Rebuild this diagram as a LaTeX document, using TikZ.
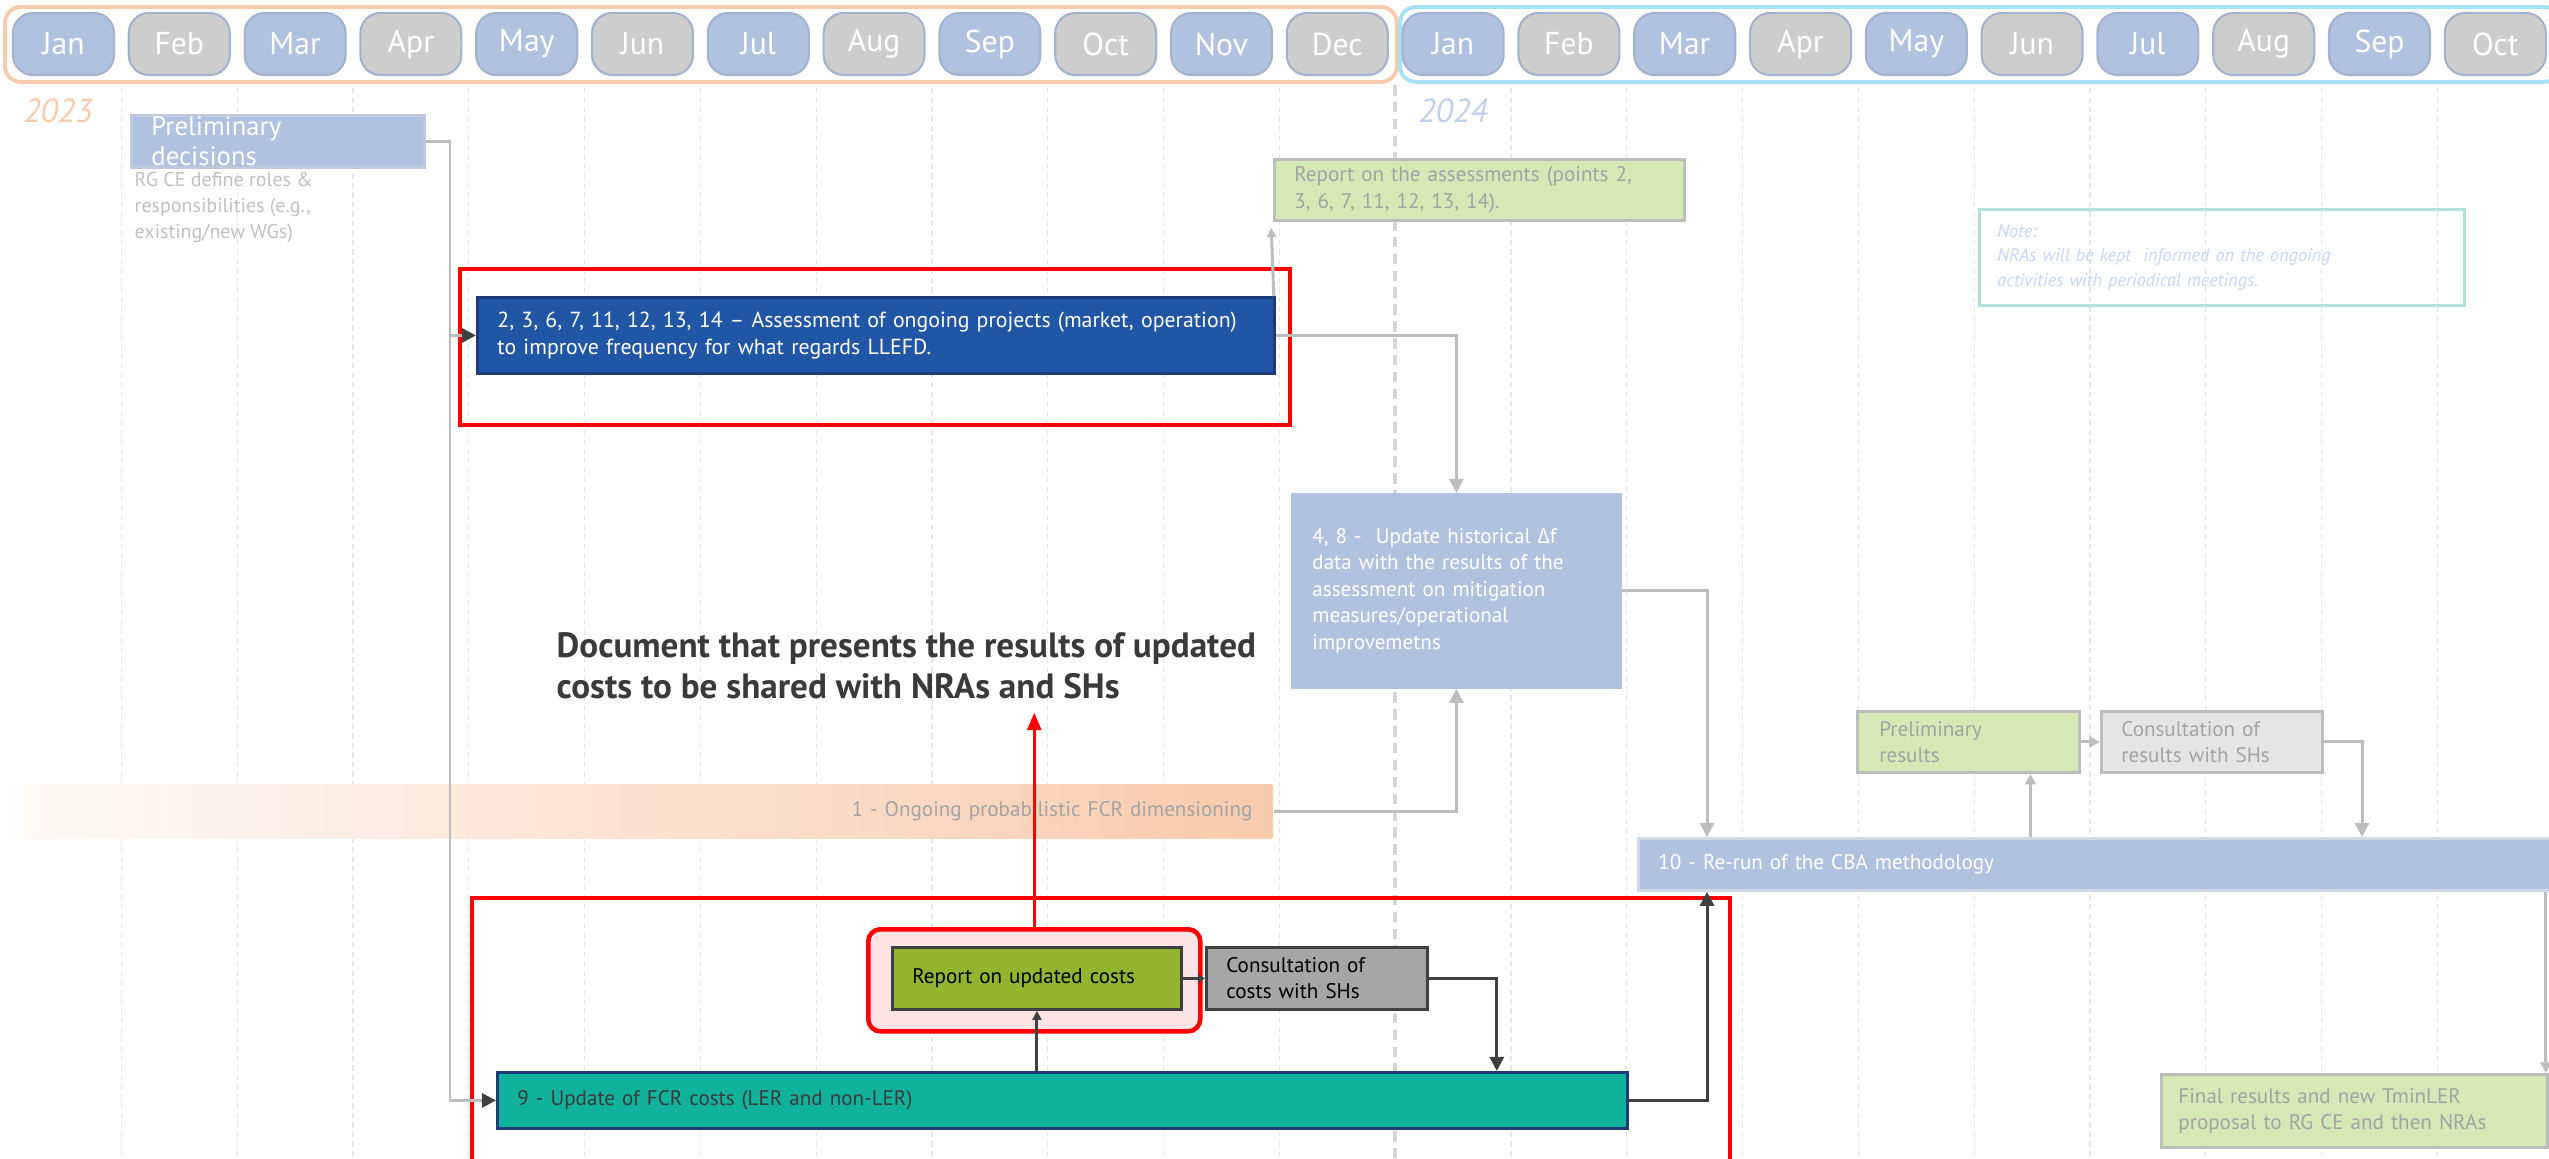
\documentclass[tikz,border=0pt]{standalone}
\usepackage{fontspec}
\setmainfont{PT Sans}
\newfontfamily\grkfont{Open Sans}
\usepackage{xcolor}
\usepackage{tikz}
\usetikzlibrary{arrows.meta,positioning,calc}

\definecolor{monthblue}{HTML}{B0C2E0}
\definecolor{monthgray}{HTML}{CECDCD}
\definecolor{monthedge}{HTML}{A3B2CE}
\definecolor{yrorange}{HTML}{F8CBAD}
\definecolor{yrcyan}{HTML}{A6E1F7}
\definecolor{yrblue}{HTML}{BFD0EC}
\definecolor{darkblue}{HTML}{2155A5}
\definecolor{navyedge}{HTML}{1F3C78}
\definecolor{tealbox}{HTML}{10B29B}
\definecolor{olive}{HTML}{92B42F}
\definecolor{midgray}{HTML}{A6A6A6}
\definecolor{lightgreen}{HTML}{D4E9B5}
\definecolor{lightgray}{HTML}{E5E5E5}
\definecolor{edgegray}{HTML}{BDBDBD}
\definecolor{txtgray}{HTML}{A3A3A3}
\definecolor{paletxt}{HTML}{C0C0C0}
\definecolor{notetxt}{HTML}{C6D6F2}
\definecolor{noteedge}{HTML}{AEE2DA}
\definecolor{pinkfill}{HTML}{FDE3E3}
\definecolor{darkline}{HTML}{404040}
\definecolor{doctxt}{HTML}{3A3A3A}
\definecolor{gridgray}{HTML}{E6E6E6}
\definecolor{divgray}{HTML}{D6D6D6}

\newcommand{\txtsm}{\fontsize{6}{7.5}\selectfont}
\newcommand{\txtmid}{\fontsize{6.2}{7.7}\selectfont}
\newcommand{\txttiny}{\fontsize{5.7}{7.4}\selectfont}
\newcommand{\txtnote}{\fontsize{5.2}{6.9}\selectfont}
\newcommand{\txtbig}{\fontsize{7.6}{8.4}\selectfont}
\newcommand{\txtmonth}{\fontsize{9}{10}\selectfont}
\newcommand{\txtyear}{\fontsize{9.5}{10}\selectfont}
\newcommand{\txtdoc}{\fontsize{10}{11.6}\selectfont}

\begin{document}
\begin{tikzpicture}[
  x=0.1mm, y=-0.1mm,
  font=\txtsm,
  month/.style  ={draw=monthedge,line width=0.6pt,rounded corners=2mm,
                  minimum width=10.1mm,minimum height=6.2mm,inner sep=0pt,
                  text=white,font=\txtmonth},
  yrframe/.style={draw,line width=1.1pt,rounded corners=1.6mm,anchor=north west,
                  minimum height=7.5mm,inner sep=0pt},
  bx/.style     ={anchor=north west,align=left,inner xsep=2mm,inner ysep=0pt,
                  line width=0.8pt},
  grn/.style    ={bx,fill=lightgreen,draw=edgegray,text=txtgray},
  lblue/.style  ={bx,fill=monthblue,draw=monthblue,text=white},
  redfr/.style  ={draw=red,line width=1.2pt,anchor=north west,inner sep=0pt},
  gridln/.style ={gridgray,line width=0.35pt,dash pattern=on 1.5pt off 1.2pt},
  dividr/.style ={divgray,line width=0.9pt,dash pattern=on 3pt off 1.8pt},
  gline/.style  ={draw=edgegray,line width=0.85pt},
  dline/.style  ={draw=darkline,line width=0.85pt},
  >={Triangle[length=4pt,width=4pt]}]

\useasboundingbox (0,0) rectangle (2549,1158);

% ---------- grid ----------
\foreach \i in {0,...,20}{
  \ifnum\i=11\else\draw[gridln] (121.4+\i*115.8,88) -- ++(0,1070);\fi
}
\draw[dividr] (1395,85) -- (1395,1158);

% ---------- month header ----------
\node[yrframe,draw=yrorange,minimum width=139.2mm] (yr23) at (3,5) {};
\node[yrframe,draw=yrcyan,minimum width=116mm] (yr24) at (1398,5) {};
\foreach \mo [count=\i from 0] in {Jan,Feb,Mar,Apr,May,Jun,Jul,Aug,Sep,Oct,Nov,Dec,Jan,Feb,Mar,Apr,May,Jun,Jul,Aug,Sep,Oct}{
  \ifodd\i \def\mfill{monthgray}\else\def\mfill{monthblue}\fi
  \node[month,fill=\mfill] (m\i) at (63.5+\i*115.8,44) {\mo};
}
\node[text=yrorange,font=\txtyear\itshape] (y23) at (58,111) {2023};
\node[text=yrblue,font=\txtyear\itshape] (y24) at (1453,111) {2024};

% ---------- 2023 ----------
\node[lblue,draw=monthedge!70!white,font=\txtbig,text width=25.3mm,minimum height=5.2mm] (prel) at (130,114)
  {Preliminary\\decisions};
\node[anchor=north west,align=left,inner sep=0pt,text=paletxt,font=\txttiny] (roles) at (134,172)
  {RG CE define roles \&\\responsibilities (e.g.,\\existing/new WGs)};

\node[redfr,minimum width=83mm,minimum height=15.6mm] (frA) at (458,267) {};
\node[bx,fill=darkblue,draw=navyedge,text=white,font=\txtmid,text width=75.7mm,minimum height=7.6mm] (assess) at (476,296)
  {2, 3, 6, 7, 11, 12, 13, 14 -- Assessment of ongoing projects (market, operation)\\to improve frequency for what regards LLEFD.};

\node[grn,text width=37mm,minimum height=6.1mm] (rep1) at (1273,158)
  {Report on the assessments (points 2,\\3, 6, 7, 11, 12, 13, 14).};

\node[bx,draw=noteedge,text=notetxt,font=\txtnote\itshape,inner xsep=1.8mm,text width=44.9mm,minimum height=9.6mm] (note) at (1978,208)
  {Note:\\NRAs will be kept~ informed on the ongoing\\activities with periodical meetings.};

\node[lblue,text width=28.8mm,minimum height=19.3mm] (hist) at (1291,493)
  {4, 8 -~ Update historical {\grkfont Δ}f\\data with the results of the\\assessment on mitigation\\measures/operational\\improvemetns};

\node[bx,left color=yrorange!10,right color=yrorange,align=right,text=txtgray,text width=120.8mm,minimum height=5.4mm] (ongoing) at (23,783)
  {1 - Ongoing probabilistic FCR dimensioning};

\node[anchor=north west,align=left,inner sep=0pt,font=\txtdoc\bfseries,text=doctxt] (docnote) at (556,632)
  {Document that presents the results of updated\\costs to be shared with NRAs and SHs};

% ---------- cost update ----------
\node[redfr,minimum width=125.8mm,minimum height=30mm] (frB) at (470,896) {};
\node[redfr,fill=pinkfill,line width=1.3pt,rounded corners=1.2mm,minimum width=33.2mm,minimum height=10.2mm] (frC) at (866,927) {};
\node[bx,fill=olive,draw=darkline,text=black,text width=24.9mm,minimum height=6.2mm] (repc) at (891,946)
  {Report on updated costs};
\node[bx,fill=midgray,draw=darkline,text=black,text width=18.1mm,minimum height=6.2mm] (cons1) at (1205,946)
  {Consultation of\\costs with SHs};
\node[bx,fill=tealbox,draw=navyedge,text=doctxt,text width=109mm,minimum height=5.6mm] (upd) at (496,1071)
  {9 - Update of FCR costs (LER and non-LER)};

% ---------- 2024 ----------
\node[lblue,draw=monthedge!50!white,text width=87.5mm,minimum height=5.2mm] (rerun) at (1637,837)
  {10 - Re-run of the CBA methodology};
\node[grn,text width=17.8mm,minimum height=6.1mm,inner xsep=2.2mm] (prres) at (1856,710)
  {Preliminary\\results};
\node[grn,fill=lightgray,text width=18.1mm,minimum height=6.1mm] (cons2) at (2100,710)
  {Consultation of\\results with SHs};
\node[grn,inner xsep=1.7mm,text width=35.2mm,minimum height=7.3mm] (final) at (2160,1073)
  {Final results and new TminLER\\proposal to RG CE and then NRAs};

% ---------- connectors ----------
\draw[gline,-{Triangle[length=4pt,width=4pt,color=darkline]}] (prel.east) -| ([xshift=-2.6mm]assess.west) -- (assess.west);
\draw[gline,-{Triangle[length=4pt,width=4pt,color=darkline]}] (prel.east) -| ([xshift=-4.6mm]upd.west) -- (upd.west);
\draw[gline,->] (assess.east) -| (hist.north);
\draw[gline,-{Triangle[length=2.6pt,width=2.6pt]},shorten >=0.6mm] ([xshift=-0.2mm]assess.north east) -- ([xshift=-0.2mm]rep1.south west);
\draw[gline,->] (hist.east) -| ([xshift=7mm]rerun.north west);
\draw[gline,->] (ongoing.east) -| (hist.south);

\draw[dline,-{Triangle[length=2pt,width=2.4pt]}] (repc.east) -- (cons1.west);
\draw[dline,->] (cons1.east) -| ([xshift=-13.2mm]upd.north east);
\draw[dline,-{Triangle[length=2.6pt,width=2.6pt]}] (repc.south |- upd.north) -- (repc.south);
\draw[dline,->] (upd.east) -| ([xshift=7mm]rerun.south west);
\draw[red,line width=0.85pt,-{Triangle[length=5pt,width=4pt]}] (frC.north) -- ([yshift=-1.3mm]frC.north |- docnote.south);

\draw[gline,-{Triangle[length=3pt,width=3pt]}] ([xshift=6.2mm]prres.south |- rerun.north) -- ([xshift=6.2mm]prres.south);
\draw[gline,-{Triangle[length=3pt,width=3pt]}] (prres.east) -- (cons2.west);
\draw[gline,->] (cons2.east) -| ([xshift=72.5mm]rerun.north west);
\draw[gline,-{Triangle[length=3pt,width=3pt]}] ([xshift=-0.3mm]final.north east |- rerun.south) -- ([xshift=-0.3mm]final.north east);

\end{tikzpicture}
\end{document}
